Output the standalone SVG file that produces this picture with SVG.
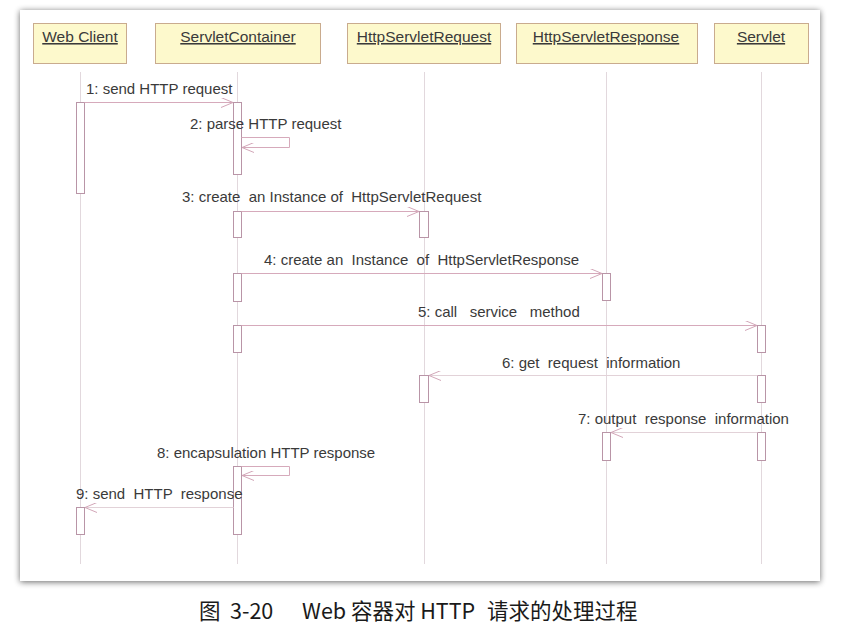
<svg xmlns="http://www.w3.org/2000/svg" width="860" height="626" viewBox="0 0 860 626">
<defs>
<filter id="sh" x="-5%" y="-5%" width="110%" height="110%">
<feGaussianBlur in="SourceAlpha" stdDeviation="3"/>
<feOffset dx="0" dy="1"/>
<feComponentTransfer><feFuncA type="linear" slope="0.6"/></feComponentTransfer>
<feMerge><feMergeNode/><feMergeNode in="SourceGraphic"/></feMerge>
</filter>
<marker id="ar" viewBox="0 0 12 10" refX="12" refY="5" markerWidth="12" markerHeight="10" markerUnits="userSpaceOnUse" orient="auto">
<path d="M0,0 L12,5 L0,10" fill="none" stroke="#d2a6b8" stroke-width="1"/>
</marker>
</defs>
<style>
.head{fill:#fdf9cc;stroke:#c9ab8e;stroke-width:1}
.ht{font-family:"Liberation Sans",Arial,sans-serif;font-size:15.5px;fill:#3a3a3a;text-anchor:middle;text-decoration:underline}
.life{stroke:#e2d8dd;stroke-width:1;fill:none}
.act{fill:#fff;stroke:#b995a7;stroke-width:1}
.msg{stroke:#d6aabb;stroke-width:1;fill:none}
.ret{stroke:#e2d2d8;stroke-width:1;fill:none}
.ml{font-family:"Liberation Sans",Arial,sans-serif;font-size:15px;fill:#3a3a3a}
.cap{font-family:"Noto Sans CJK SC","Noto Sans",sans-serif;font-size:21.5px;fill:#1a1a1a}
</style>
<rect x="0" y="0" width="860" height="626" fill="#fff"/>
<rect x="20" y="10" width="800" height="571" fill="#fff" filter="url(#sh)"/>

<g id="lifelines">
<line class="life" x1="80.5" y1="72" x2="80.5" y2="564"/>
<line class="life" x1="237.5" y1="72" x2="237.5" y2="564"/>
<line class="life" x1="424.5" y1="72" x2="424.5" y2="564"/>
<line class="life" x1="606.5" y1="72" x2="606.5" y2="564"/>
<line class="life" x1="761.5" y1="72" x2="761.5" y2="564"/>
</g>

<g id="web-client">
<rect class="head" x="33.5" y="23.5" width="93" height="40"/>
<text class="ht" x="80" y="42">Web Client</text>
<rect class="act" x="76.5" y="102.5" width="8" height="91"/>
<rect class="act" x="76.5" y="507.5" width="8" height="27"/>
</g>

<g id="servlet-container">
<rect class="head" x="155.5" y="23.5" width="165" height="40"/>
<text class="ht" x="238" y="42">ServletContainer</text>
<rect class="act" x="233.5" y="102.5" width="8" height="72"/>
<rect class="act" x="233.5" y="211.5" width="8" height="26"/>
<rect class="act" x="233.5" y="273.5" width="8" height="28"/>
<rect class="act" x="233.5" y="325.5" width="8" height="27"/>
<rect class="act" x="233.5" y="466.5" width="8" height="68"/>
</g>

<g id="http-servlet-request">
<rect class="head" x="347.5" y="23.5" width="153" height="40"/>
<text class="ht" x="424" y="42">HttpServletRequest</text>
<rect class="act" x="419.5" y="211.5" width="9" height="26"/>
<rect class="act" x="419.5" y="375.5" width="9" height="27"/>
</g>

<g id="http-servlet-response">
<rect class="head" x="516.5" y="23.5" width="181" height="40"/>
<text class="ht" x="606" y="42">HttpServletResponse</text>
<rect class="act" x="602.5" y="273.5" width="8" height="27"/>
<rect class="act" x="602.5" y="432.5" width="8" height="28"/>
</g>

<g id="servlet">
<rect class="head" x="714.5" y="23.5" width="94" height="40"/>
<text class="ht" x="761" y="42">Servlet</text>
<rect class="act" x="757.5" y="325.5" width="8" height="27"/>
<rect class="act" x="757.5" y="375.5" width="8" height="27"/>
<rect class="act" x="757.5" y="432.5" width="8" height="28"/>
</g>

<g id="connectors">
<line class="msg" x1="84.5" y1="102.5" x2="233" y2="102.5" marker-end="url(#ar)"/>
<polyline class="msg" points="241.5,137.5 289.5,137.5 289.5,147.5 242,147.5" marker-end="url(#ar)"/>
<line class="msg" x1="241.5" y1="211.5" x2="419" y2="211.5" marker-end="url(#ar)"/>
<line class="msg" x1="241.5" y1="273.5" x2="602" y2="273.5" marker-end="url(#ar)"/>
<line class="msg" x1="241.5" y1="325.5" x2="757" y2="325.5" marker-end="url(#ar)"/>
<line class="ret" x1="757.5" y1="375.5" x2="429" y2="375.5" marker-end="url(#ar)"/>
<line class="ret" x1="757.5" y1="432.5" x2="611" y2="432.5" marker-end="url(#ar)"/>
<polyline class="msg" points="241.5,466.5 289.5,466.5 289.5,475.5 242,475.5" marker-end="url(#ar)"/>
<line class="ret" x1="233.5" y1="507.5" x2="85" y2="507.5" marker-end="url(#ar)"/>
</g>

<g id="labels">
<text class="ml" x="86" y="94">1: send HTTP request</text>
<text class="ml" x="190" y="129">2: parse HTTP request</text>
<text class="ml" x="182" y="202" xml:space="preserve">3: create  an Instance of  HttpServletRequest</text>
<text class="ml" x="264" y="265" xml:space="preserve">4: create an  Instance  of  HttpServletResponse</text>
<text class="ml" x="418" y="317" xml:space="preserve">5: call   service   method</text>
<text class="ml" x="502" y="368" xml:space="preserve">6: get  request  information</text>
<text class="ml" x="578" y="424" xml:space="preserve">7: output  response  information</text>
<text class="ml" x="157" y="458">8: encapsulation HTTP response</text>
<text class="ml" x="76" y="499" xml:space="preserve">9: send  HTTP  response</text>
</g>

<text class="cap" y="619"><tspan x="199">图</tspan><tspan x="230">3-20</tspan><tspan x="302">Web 容器对 HTTP</tspan><tspan x="487">请求的处理过程</tspan></text>
</svg>
